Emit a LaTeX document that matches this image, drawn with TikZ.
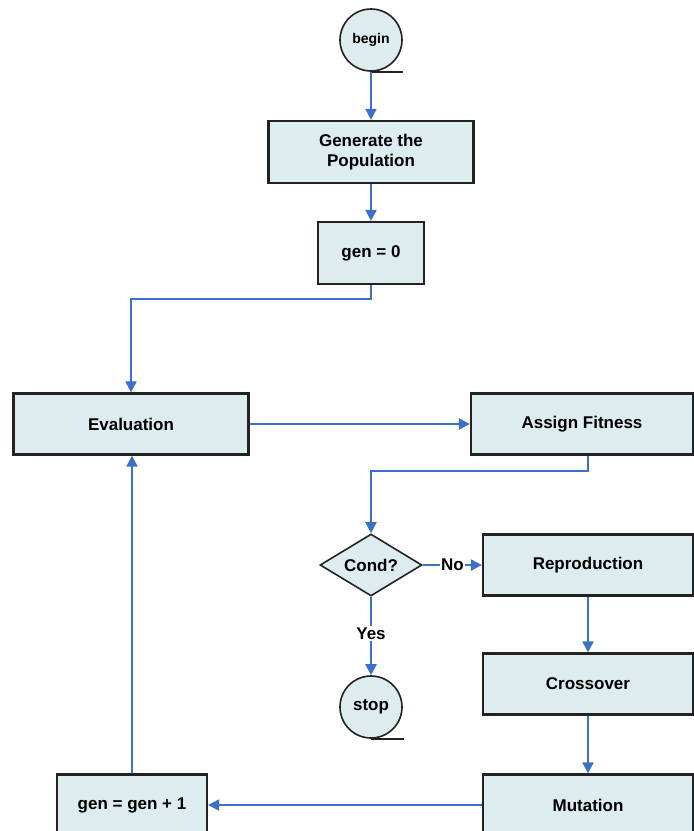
\documentclass[tikz,border=0pt]{standalone}
\usepackage{fontspec}
\setmainfont{Liberation Sans}
\usetikzlibrary{arrows.meta,shapes.geometric,calc}
\definecolor{boxfill}{RGB}{221,237,239}
\definecolor{flowblue}{RGB}{58,112,200}
\definecolor{boxline}{RGB}{34,34,34}
\tikzset{
  labelfont/.style={font=\fontsize{17}{20}\selectfont\bfseries},
  procbox/.style={draw=boxline, line width=2.2pt, fill=boxfill, rectangle,
    inner sep=0pt, align=center, labelfont},
  terminal/.style={draw=boxline, line width=1.6pt, fill=boxfill, circle,
    minimum size=62pt, inner sep=0pt, labelfont},
  decision/.style={draw=boxline, line width=1.6pt, fill=boxfill, diamond,
    minimum width=102pt, minimum height=62pt, aspect=1.65, inner sep=0pt,
    labelfont},
  flow/.style={draw=flowblue, line width=2pt, -{Triangle[length=11pt,width=11pt]}},
  tail/.style={draw=boxline, line width=1.8pt},
  edgelabel/.style={fill=white, inner sep=1.5pt, labelfont}
}
\begin{document}
\begin{tikzpicture}[x=1pt,y=-1pt]
\useasboundingbox (0,0) rectangle (694,831);
\clip (0,0) rectangle (694,831);

% start / stop symbols with their tails
\node[terminal, font=\fontsize{14}{16}\selectfont\bfseries] (begin) at (371,40) {begin};
\draw[tail] (begin.south) -- ++(32,0) coordinate (begintail);
\node[terminal] (stop) at (371,707) {stop};
\draw[tail] (stop.south) -- ++(33,0) coordinate (stoptail);

% process boxes
\node[procbox, minimum width=205pt, minimum height=62pt] (gen) at (371,152) {Generate the\\Population};
\node[procbox, minimum width=106pt, minimum height=62pt] (g0) at (371,253) {gen = 0};
\node[procbox, minimum width=235pt, minimum height=61pt] (eval) at (131,424) {Evaluation};
\node[procbox, minimum width=222pt, minimum height=61pt] (fit) at (582,424) {Assign Fitness};
\node[decision] (cond) at (371,565) {Cond?};
\node[procbox, minimum width=210pt, minimum height=61pt] (rep) at (588,565) {Reproduction};
\node[procbox, minimum width=210pt, minimum height=61pt] (cross) at (588,684) {Crossover};
\node[procbox, minimum width=210pt, minimum height=61pt] (mut) at (588,805) {Mutation};
\node[procbox, minimum width=150pt, minimum height=61pt] (inc) at (132,805) {gen = gen + 1};

% connectors
\draw[flow] (begin.south) -- (gen.north);
\draw[flow] (gen.south) -- (g0.north);
\draw[flow] (g0.south) -- ($(g0.south)+(0,14)$) -| (eval.north);
\draw[flow] (eval.east) -- (fit.west);
\draw[flow] (fit.south -| rep.north) -- ($(fit.south -| rep.north)+(0,15)$) -| (cond.north);
\draw[flow] (cond.east) -- node[edgelabel] {No} (rep.west);
\draw[flow] (cond.south) -- node[edgelabel, pos=0.47] {Yes} (stop.north);
\draw[flow] (rep.south) -- (cross.north);
\draw[flow] (cross.south) -- (mut.north);
\draw[flow] (mut.west) -- (inc.east);
\draw[flow] (inc.north) -- (inc.north |- eval.south);
\end{tikzpicture}
\end{document}
